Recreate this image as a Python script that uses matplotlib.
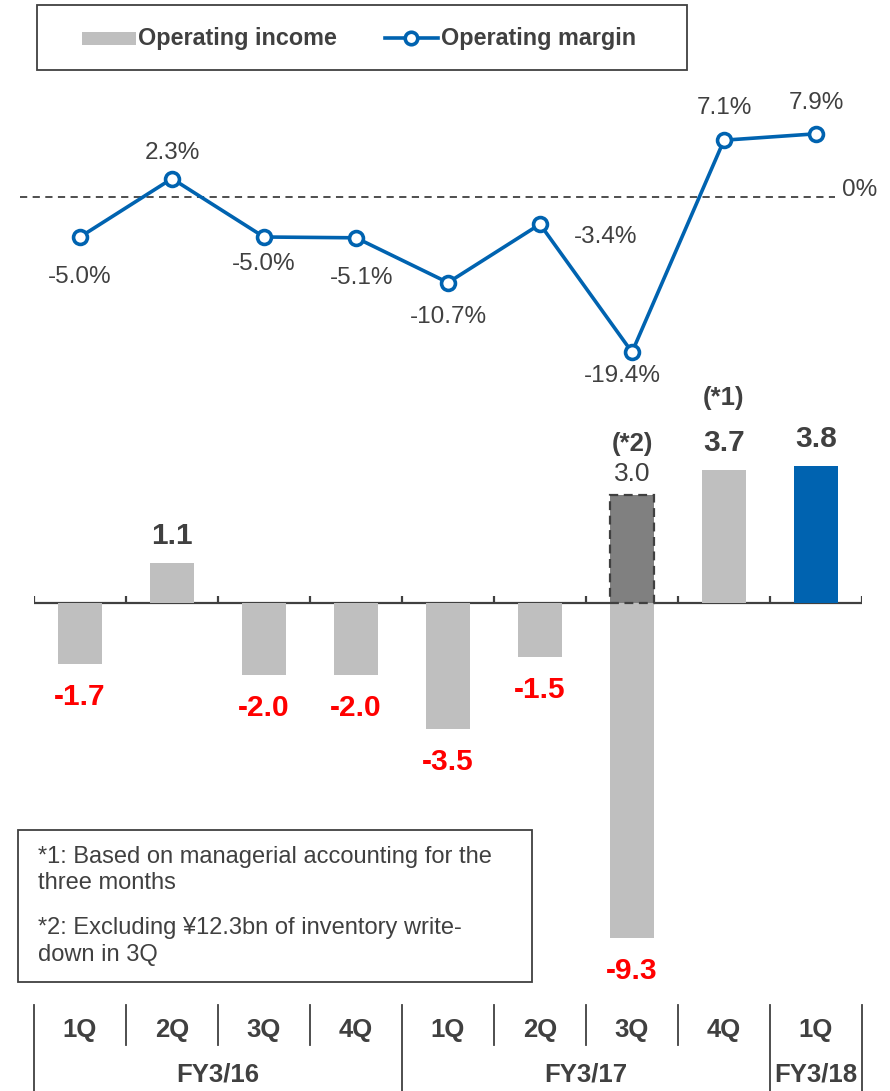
import matplotlib.pyplot as plt
from matplotlib.patches import Rectangle
from matplotlib.lines import Line2D

# ── Data ─────────────────────────────────────────────────────────────────────
quarters = ["1Q", "2Q", "3Q", "4Q", "1Q", "2Q", "3Q", "4Q", "1Q"]
fiscal_years = ["FY3/16", "FY3/17", "FY3/18"]
fy_spans = [(0, 4), (4, 8), (8, 9)]          # quarter index ranges per fiscal year

op_income = [-1.7, 1.1, -2.0, -2.0, -3.5, -1.5, -9.3, 3.7, 3.8]
op_margin = [-5.0, 2.3, -5.0, -5.1, -10.7, -3.4, -19.4, 7.1, 7.9]
excl_writedown = 3.0                          # 3Q FY3/17 excluding write-down (*2)

notes = ["*1: Based on managerial accounting for the",
         "three months",
         "*2: Excluding ¥12.3bn of inventory write-",
         "down in 3Q"]

# ── Style ────────────────────────────────────────────────────────────────────
GRAY = "#BFBFBF"
DARK = "#404040"
BLUE = "#0063B0"
RED = "#FF0000"
plt.rcParams["font.family"] = ["Liberation Sans", "DejaVu Sans"]

W, H = 890, 1091
fig = plt.figure(figsize=(W / 100, H / 100), dpi=100)


def px_axes(x0, y0, x1, y1):
    """axes from pixel box (top-left origin)"""
    return fig.add_axes([x0 / W, 1 - y1 / H, (x1 - x0) / W, (y1 - y0) / H])


X0, X1 = 34, 862
xs = list(range(len(quarters)))

# ── Operating margin line ────────────────────────────────────────────────────
axl = px_axes(X0, 90, X1, 400)
axl.set_xlim(-0.5, 8.5)
axl.set_ylim(-25.375, 13.375)
axl.axis("off")
axl.plot([-0.652, 8.21], [0, 0], color=DARK, lw=1.3, ls=(0, (4, 3)), clip_on=False)
axl.text(8.47, 0.9, "0%", ha="center", va="center", fontsize=17.5, color=DARK)
axl.plot(xs, op_margin, color=BLUE, lw=2.6, marker="o", ms=10, mfc="white",
         mec=BLUE, mew=2.6, zorder=3, clip_on=False)

margin_offsets = [(0, -40), (0, 26), (0, -27), (6, -40), (0, -34), (66, -13),
                  (-10, -24), (0, 32), (0, 31)]
for x, v, (dx, dy) in zip(xs, op_margin, margin_offsets):
    axl.annotate(f"{v:.1f}%", (x, v), xytext=(dx, dy), textcoords="offset pixels",
                 ha="center", va="center", fontsize=17.5, color=DARK)

# ── Operating income bars ────────────────────────────────────────────────────
axb = px_axes(X0, 420, X1, 990)
axb.set_xlim(-0.5, 8.5)
axb.set_ylim(-10.75, 5.083)
axb.axis("off")

colors = [GRAY] * 8 + [BLUE]
axb.bar(xs, op_income, width=0.48, color=colors, zorder=2)
axb.bar(6, excl_writedown, width=0.48, color="#808080", edgecolor=DARK, lw=1.6,
        ls=(0, (4, 2.5)), zorder=3)

axb.axhline(0, color=DARK, lw=1.6, zorder=1)
axb.vlines([b - 0.5 for b in range(len(quarters) + 1)], 0, 0.2, color=DARK, lw=1.6)

for x, v in zip(xs, op_income):
    if v >= 0:
        axb.annotate(f"{v:.1f}", (x, v), xytext=(0, 27), textcoords="offset pixels",
                     ha="center", va="center", fontsize=21.5, fontweight="bold", color=DARK)
    else:
        axb.annotate(f"{v:.1f}", (x, v), xytext=(0, -33), textcoords="offset pixels",
                     ha="center", va="center", fontsize=21.5, fontweight="bold", color=RED)

axb.annotate(f"{excl_writedown:.1f}", (6, excl_writedown), xytext=(0, 21),
             textcoords="offset pixels", ha="center", va="center", fontsize=19, color=DARK)
axb.annotate("(*2)", (6, excl_writedown), xytext=(0, 51), textcoords="offset pixels",
             ha="center", va="center", fontsize=18.5, fontweight="bold", color=DARK)
axb.annotate("(*1)", (7, op_income[7]), xytext=(0, 72), textcoords="offset pixels",
             ha="center", va="center", fontsize=18.5, fontweight="bold", color=DARK)

# ── Category table at the bottom ─────────────────────────────────────────────
axt = px_axes(X0, 1000, X1, 1091)
axt.set_xlim(-0.5, 8.5)
axt.set_ylim(0, 91)
axt.invert_yaxis()
axt.axis("off")
fy_edges = {s for s, _ in fy_spans} | {e for _, e in fy_spans}
for b in range(len(quarters) + 1):
    y_end = 91 if b in fy_edges else 45
    axt.plot([b - 0.5, b - 0.5], [5, y_end], color=DARK, lw=1.3, clip_on=False)
for x, q in zip(xs, quarters):
    axt.text(x, 30, q, ha="center", va="center", fontsize=18.5, fontweight="bold", color=DARK)
for (s, e), fy in zip(fy_spans, fiscal_years):
    axt.text((s + e - 1) / 2, 75, fy, ha="center", va="center", fontsize=18.5,
             fontweight="bold", color=DARK)

# ── Legend box ───────────────────────────────────────────────────────────────
fig.add_artist(Rectangle((37 / W, 1 - 70 / H), 650 / W, 65 / H, transform=fig.transFigure,
                         fill=False, ec=DARK, lw=1.3))
fig.add_artist(Rectangle((82 / W, 1 - 45 / H), 54 / W, 13 / H, transform=fig.transFigure,
                         fc=GRAY, ec="none"))
fig.text(138 / W, 1 - 38 / H, "Operating income", ha="left", va="center", fontsize=16.8,
         fontweight="bold", color=DARK)
fig.add_artist(Line2D([385 / W, 438 / W], [1 - 38 / H, 1 - 38 / H], transform=fig.transFigure,
                      color=BLUE, lw=2.6, zorder=3))
fig.add_artist(Line2D([411 / W], [1 - 38 / H], transform=fig.transFigure, color=BLUE,
                      marker="o", ms=9, mfc="white", mec=BLUE, mew=2.6, zorder=4))
fig.text(441 / W, 1 - 38 / H, "Operating margin", ha="left", va="center", fontsize=16.8,
         fontweight="bold", color=DARK)

# ── Notes box ────────────────────────────────────────────────────────────────
fig.add_artist(Rectangle((18 / W, 1 - 982 / H), 514 / W, 152 / H, transform=fig.transFigure,
                         fill=False, ec=DARK, lw=1.3))
for y, line in zip([857, 883, 928, 955], notes):
    fig.text(38 / W, 1 - y / H, line, ha="left", va="center", fontsize=17, color=DARK)

fig.savefig("out.png", dpi=100)
